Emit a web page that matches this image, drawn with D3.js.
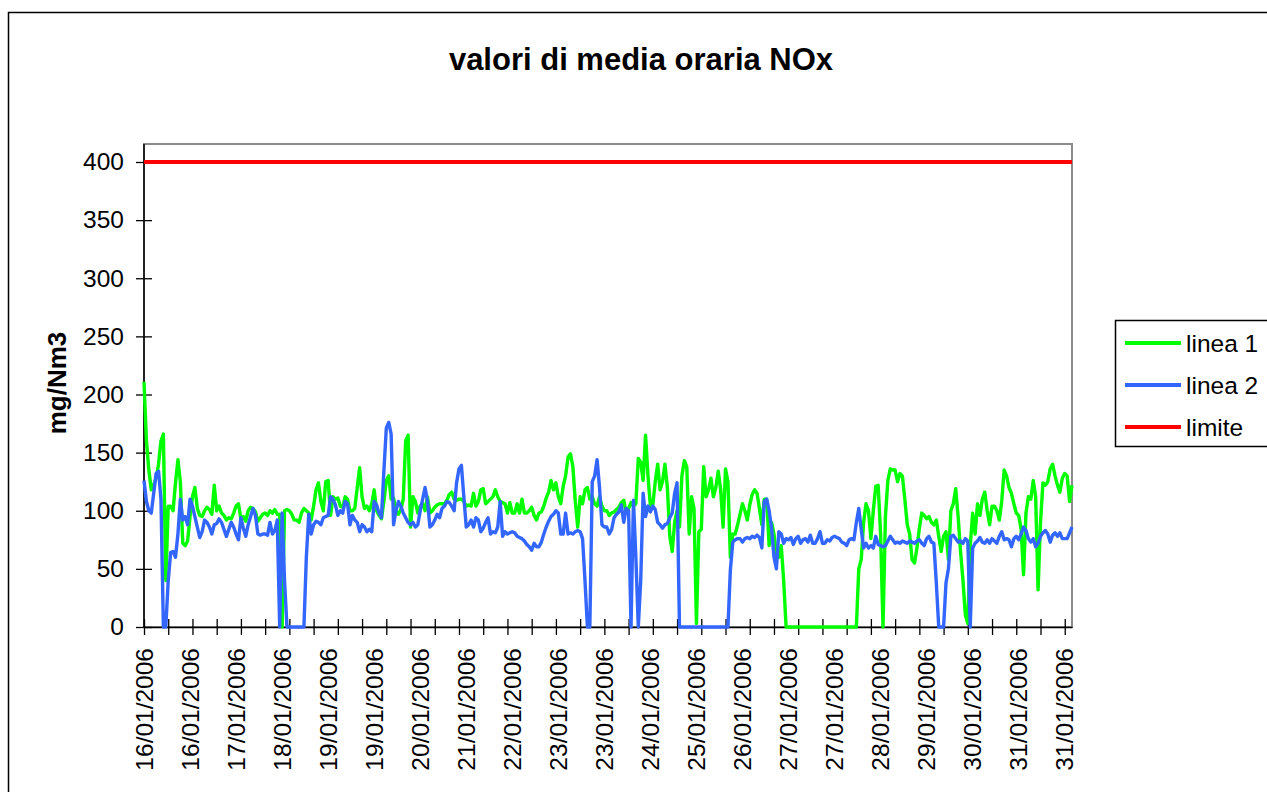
<!DOCTYPE html>
<html>
<head>
<meta charset="utf-8">
<script src="https://cdn.jsdelivr.net/npm/d3@7/dist/d3.min.js"></script>
<style>
  html, body { margin: 0; padding: 0; background: #fff; }
  svg { display: block; font-family: "Liberation Sans", Arial, sans-serif; }
</style>
</head>
<body>
<svg id="chart" width="1267" height="792"></svg>
<script>
// hourly values, 16/01/2006 00:00 -> 31/01/2006 23:00 (384 points)
const linea1 = [
  211,160,135,118,122,128,140,160,166,40,
  104,104,100,124,144,125,72,70,74,95,
  112,120,102,96,95,100,103,101,97,122,
  100,104,98,96,92,94,93,98,104,106,
  93,95,91,100,103,102,99,91,94,97,
  98,96,100,98,101,97,97,0,100,101,
  100,97,92,92,90,98,102,100,98,92,
  104,118,124,108,100,125,126,96,112,110,
  111,104,103,112,110,100,100,102,120,137,
  112,102,104,100,106,118,100,96,93,108,
  126,130,110,111,100,97,101,110,160,165,
  86,112,108,98,104,106,100,112,98,100,
  103,105,106,106,106,109,114,116,110,109,
  110,110,108,104,105,104,115,104,108,118,
  119,106,108,110,112,118,112,108,107,106,
  98,107,98,98,106,98,110,98,98,100,
  103,96,92,98,99,104,111,116,126,118,
  124,112,106,121,130,146,149,138,108,86,
  112,106,118,120,110,112,106,104,112,104,
  100,100,96,98,99,101,103,107,109,98,
  102,107,104,106,145,142,126,165,130,104,
  105,125,140,118,125,140,120,78,65,90,
  100,86,130,143,138,80,112,102,3,82,
  84,138,112,118,128,112,120,134,118,86,
  136,125,60,80,80,88,97,106,100,92,
  105,114,118,115,102,88,110,110,70,90,
  80,62,60,70,40,0,0,0,0,0,
  0,0,0,0,0,0,0,0,0,0,
  0,0,0,0,0,0,0,0,0,0,
  0,0,0,0,0,50,58,90,106,100,
  76,100,121,122,80,0,95,126,136,135,
  135,125,132,130,110,88,80,58,55,68,
  85,98,96,93,95,90,88,92,78,65,
  78,82,58,100,106,119,95,65,40,10,
  3,70,98,80,106,96,110,116,100,88,
  104,104,100,92,108,135,130,120,115,106,
  98,96,84,45,98,112,110,126,112,32,
  90,124,122,125,136,140,130,122,116,128,
  132,130,108,122
];

const linea2 = [
  126,108,100,98,115,132,134,110,0,0,
  40,64,65,60,80,110,92,95,88,110,
  104,95,86,77,82,92,90,86,80,88,
  89,93,90,84,78,84,90,86,80,75,
  94,85,78,88,95,102,96,80,79,80,
  80,79,90,80,83,92,0,98,40,0,
  0,0,0,0,0,0,0,60,97,80,
  88,91,90,88,94,95,96,112,110,105,
  96,100,98,108,106,88,96,92,90,82,
  88,86,82,84,82,108,105,98,94,134,
  171,176,166,88,100,108,104,98,94,90,
  88,90,86,88,100,110,120,108,86,88,
  92,97,94,102,104,108,107,104,100,124,
  136,139,112,86,88,92,86,94,92,82,
  85,90,94,80,82,81,86,108,78,82,
  80,81,82,81,78,77,76,74,71,69,
  66,72,69,69,73,80,86,91,95,97,
  100,98,80,80,98,80,81,80,82,83,
  82,76,40,0,0,125,130,144,120,88,
  86,86,80,84,94,97,99,105,90,102,
  100,0,109,60,0,40,115,95,104,99,
  104,101,90,88,85,88,89,94,98,115,
  124,0,0,0,0,0,0,0,0,0,
  0,0,0,0,0,0,0,0,0,0,
  0,0,49,73,75,76,76,73,76,77,
  76,78,77,79,77,68,108,110,100,85,
  60,50,82,80,72,76,75,77,71,76,
  78,72,75,76,73,79,72,72,76,82,
  72,72,75,74,77,78,77,76,73,72,
  70,75,76,75,90,102,84,68,72,68,
  70,68,78,71,70,69,70,74,78,75,
  72,73,72,74,73,72,74,73,72,74,
  75,72,70,76,78,73,72,38,0,0,
  0,38,50,78,79,76,73,74,72,76,
  74,0,68,72,74,77,73,72,75,72,
  76,74,72,78,82,75,76,75,69,76,
  78,75,80,86,83,76,73,76,69,72,
  78,81,83,80,73,79,81,78,81,76,
  76,76,81,86
];

const limite = 400;

// category labels, shown every 19 hours
const labelStep = 19;
const tickStep = 10;
const dateLabels = [
  "16/01/2006","16/01/2006","17/01/2006","18/01/2006","19/01/2006",
  "19/01/2006","20/01/2006","21/01/2006","22/01/2006","23/01/2006",
  "23/01/2006","24/01/2006","25/01/2006","26/01/2006","27/01/2006",
  "27/01/2006","28/01/2006","29/01/2006","30/01/2006","31/01/2006",
  "31/01/2006"
];
const yTicks = [0, 50, 100, 150, 200, 250, 300, 350, 400];

const series = [
  { name: "linea 1", values: linea1, color: "#00ff00", width: 3.4 },
  { name: "linea 2", values: linea2, color: "#3366ff", width: 3.4 },
  { name: "limite", values: linea1.map(() => limite), color: "#ff0000", width: 4 }
];

const svg = d3.select("#chart");
const plot = { left: 144, right: 1072, top: 144, bottom: 627 };

const x = d3.scaleLinear().domain([0, linea1.length - 1]).range([plot.left, plot.right]);
const y = d3.scaleLinear().domain([0, 400]).range([627, 162]);

// outer chart border
svg.append("rect")
  .attr("x", 8.5).attr("y", 12.5)
  .attr("width", 1400).attr("height", 900)
  .attr("fill", "#fff").attr("stroke", "#000").attr("stroke-width", 1.5);

// plot area border
svg.append("rect")
  .attr("x", plot.left).attr("y", plot.top)
  .attr("width", plot.right - plot.left).attr("height", plot.bottom - plot.top)
  .attr("fill", "#fff").attr("stroke", "#8a8a8a").attr("stroke-width", 2);

// title
svg.append("text")
  .attr("x", 641).attr("y", 70)
  .attr("text-anchor", "middle")
  .attr("font-size", "31px").attr("font-weight", "bold")
  .text("valori di media oraria NOx");

// y axis title
svg.append("text")
  .attr("transform", "translate(57,383) rotate(-90)")
  .attr("text-anchor", "middle").attr("dy", "0.35em")
  .attr("font-size", "26px").attr("font-weight", "bold")
  .text("mg/Nm3");

// y axis
const yAxis = svg.append("g")
  .attr("transform", `translate(${plot.left},0)`)
  .call(d3.axisLeft(y).tickValues(yTicks).tickSize(8).tickSizeOuter(0));
yAxis.select(".domain").attr("stroke", "#000").attr("stroke-width", 1.5)
  .attr("d", `M0,${plot.top}V${plot.bottom}`);
yAxis.selectAll(".tick line").attr("x1", 8).attr("x2", -8).attr("stroke-width", 1.3);
yAxis.selectAll(".tick text")
  .attr("x", -20).attr("font-size", "24.5px").attr("fill", "#000")
  .attr("font-family", "'Liberation Sans', Arial, sans-serif");

// x axis
const tickIdx = d3.range(0, linea1.length, tickStep);
const xAxis = svg.append("g")
  .attr("transform", `translate(0,${plot.bottom})`)
  .call(d3.axisBottom(x).tickValues(tickIdx).tickSize(8).tickSizeOuter(0).tickFormat(""));
xAxis.select(".domain").attr("stroke", "#000").attr("stroke-width", 1.5);
xAxis.selectAll(".tick line").attr("y1", -8).attr("y2", 8).attr("stroke-width", 1.3);

svg.append("g").selectAll("text")
  .data(dateLabels)
  .join("text")
  .attr("transform", (d, i) => `translate(${x(i * labelStep)},648) rotate(-90)`)
  .attr("text-anchor", "end").attr("dy", "0.35em")
  .attr("font-size", "24.5px")
  .text(d => d);

// series lines
const line = d3.line()
  .x((d, i) => x(i))
  .y(d => y(d));

svg.append("g").selectAll("path")
  .data(series)
  .join("path")
  .attr("d", d => line(d.values))
  .attr("fill", "none")
  .attr("stroke", d => d.color)
  .attr("stroke-width", d => d.width)
  .attr("stroke-linejoin", "round");

// legend
const legend = svg.append("g").attr("transform", "translate(1115,320)");
legend.append("rect")
  .attr("x", 0.5).attr("y", 0.5).attr("width", 200).attr("height", 126)
  .attr("fill", "#fff").attr("stroke", "#000").attr("stroke-width", 1.5);
const item = legend.selectAll("g.item")
  .data(series)
  .join("g")
  .attr("class", "item")
  .attr("transform", (d, i) => `translate(0,${23 + i * 42})`);
item.append("line")
  .attr("x1", 10).attr("x2", 66)
  .attr("stroke", d => d.color).attr("stroke-width", 4);
item.append("text")
  .attr("x", 71).attr("dy", "0.35em")
  .attr("font-size", "24.5px")
  .text(d => d.name);
</script>
</body>
</html>
